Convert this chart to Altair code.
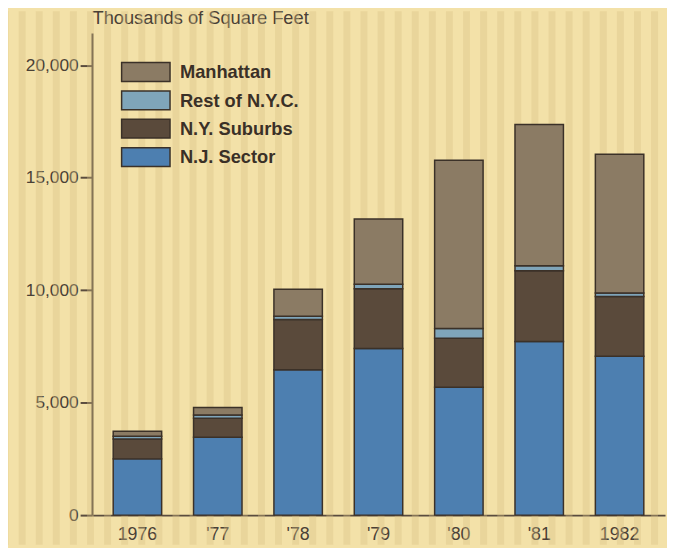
import altair as alt
import pandas as pd

years = ["1976", "'77", "'78", "'79", "'80", "'81", "1982"]
regions = ["Manhattan", "Rest of N.Y.C.", "N.Y. Suburbs", "N.J. Sector"]
nj_sector = [2500, 3460, 6460, 7410, 5680, 7720, 7060]
ny_suburbs = [880, 850, 2240, 2650, 2180, 3145, 2660]
rest_nyc = [130, 145, 145, 200, 440, 220, 150]
manhattan = [220, 325, 1200, 2900, 7470, 6280, 6175]
colors = ["#8b7b64", "#7fa5ba", "#5a4a3b", "#4d7fb0"]

series = {"N.J. Sector": nj_sector, "N.Y. Suburbs": ny_suburbs,
          "Rest of N.Y.C.": rest_nyc, "Manhattan": manhattan}
stack_rank = {"N.J. Sector": 0, "N.Y. Suburbs": 1, "Rest of N.Y.C.": 2, "Manhattan": 3}
rows = []
for name, vals in series.items():
    for y, v in zip(years, vals):
        rows.append({"year": y, "region": name, "value": v, "rank": stack_rank[name]})
df = pd.DataFrame(rows)

W, H = 580, 488
ink = "#4a4036"

# background stripe texture (decoration only)
stripes = pd.DataFrame({"k": list(range(0, 40))})
stripe_layer = alt.Chart(stripes).transform_calculate(
    px="datum.k * 17.3 - 88"
).mark_rule(color="#d8c185", strokeWidth=7, opacity=0.35).encode(
    x=alt.X("px:Q", scale=None, axis=None),
    y=alt.value(-22),
    y2=alt.value(H + 30),
)

bars = alt.Chart(df).mark_bar(stroke="#3b3128", strokeWidth=1.5).encode(
    x=alt.X("year:N", sort=years,
            scale=alt.Scale(paddingInner=0.397, paddingOuter=0.264),
            axis=alt.Axis(title=None, labelAngle=0, ticks=False, labelPadding=11,
                          labelFontSize=18, labelColor=ink, labelFont="Liberation Sans",
                          domainColor="#5a4c3e", domainWidth=2)),
    y=alt.Y("value:Q", stack="zero",
            scale=alt.Scale(domain=[0, 21432], nice=False, zero=True),
            axis=alt.Axis(values=[0, 5000, 10000, 15000, 20000], format=",.0f",
                          title="Thousands of Square Feet", titleAngle=0,
                          titleX=0, titleY=-9.5, titleAlign="left",
                          titleBaseline="alphabetic", titleFontSize=18.5,
                          titleFontWeight="normal", titleColor=ink,
                          titleFont="Liberation Sans",
                          tickSize=12, tickWidth=2, tickColor="#5a4c3e",
                          labelPadding=2, labelFontSize=17.5, labelColor=ink,
                          labelFont="Liberation Sans", grid=False,
                          domainColor="#5a4c3e", domainWidth=2)),
    color=alt.Color("region:N", scale=alt.Scale(domain=regions, range=colors), legend=None),
    order=alt.Order("rank:Q", sort="ascending"),
)

leg = pd.DataFrame({"region": regions, "i": list(range(len(regions)))})
leg_base = alt.Chart(leg).transform_calculate(
    ytop="30 + datum.i * 28.7", ybot="49 + datum.i * 28.7", ymid="40 + datum.i * 28.7"
)
leg_rect = leg_base.mark_rect(stroke="#3b3128", strokeWidth=1.5).encode(
    x=alt.value(30), x2=alt.value(79),
    y=alt.Y("ytop:Q", scale=None, axis=None), y2=alt.Y2("ybot:Q"),
    color=alt.Color("region:N", scale=alt.Scale(domain=regions, range=colors), legend=None),
)
leg_text = leg_base.mark_text(align="left", baseline="middle", fontSize=18.5,
                              fontWeight="bold", color="#3a3027",
                              font="Liberation Sans").encode(
    x=alt.value(89), y=alt.Y("ymid:Q", scale=None, axis=None), text="region:N",
)

chart = alt.layer(stripe_layer, bars, leg_rect, leg_text).resolve_scale(
    y="independent", x="independent"
).properties(
    width=W, height=H,
    background="#f3e1a8",
    padding={"left": 85, "top": 22, "right": 2, "bottom": 30},
    autosize=alt.AutoSizeParams(type="none"),
).configure_view(stroke=None)

chart.save("out.html", embed_options={"renderer": "svg", "actions": False})
